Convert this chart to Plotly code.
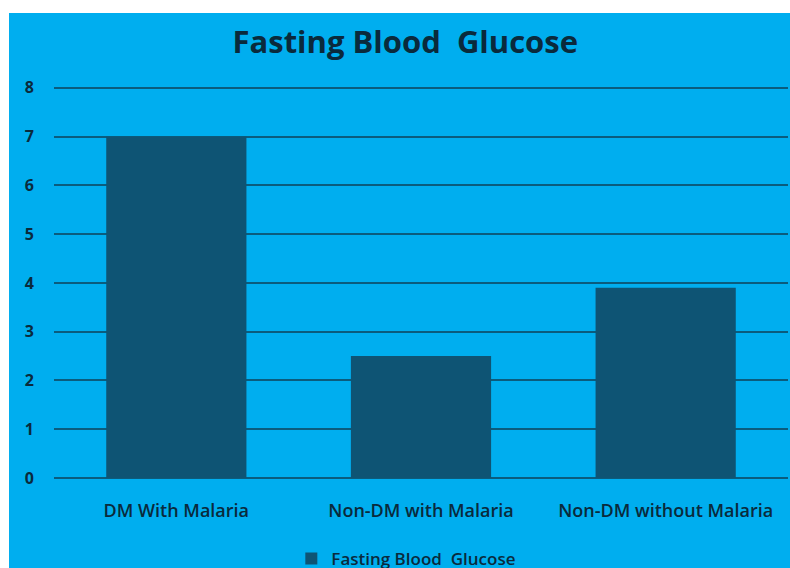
import plotly.graph_objects as go

categories = ["DM With Malaria", "Non-DM with Malaria", "Non-DM without Malaria"]
glucose = [7.0, 2.5, 3.9]
series_name = "Fasting Blood\u00a0 Glucose"

blue = "#00AEEF"
bar_color = "#0E5474"
text_color = "#0A2A3C"
font_name = "Open Sans"

fig = go.Figure()

fig.add_trace(go.Bar(
    x=categories,
    y=glucose,
    name=series_name,
    marker=dict(color=bar_color, line=dict(width=0)),
    width=0.573,
    showlegend=True,
))

# blue panel behind everything, leaving a white strip on top and left
fig.add_shape(
    type="rect", xref="paper", yref="paper",
    x0=-0.0613, x1=1.01, y0=-0.3, y1=1.177,
    fillcolor=blue, line=dict(width=0), layer="below",
)

fig.update_layout(
    width=790,
    height=568,
    margin=dict(l=54, r=2, t=83, b=90),
    paper_bgcolor="white",
    plot_bgcolor="rgba(0,0,0,0)",
    font=dict(family=font_name, color=text_color, size=15),
    title=dict(
        text="<b>" + series_name + "</b>",
        x=0.513, xref="container", xanchor="center",
        y=1 - 42 / 568, yref="container", yanchor="middle",
        font=dict(family=font_name, size=31, color=text_color),
    ),
    bargap=0.427,
    showlegend=True,
    legend=dict(
        orientation="h",
        x=0.48, xanchor="center", xref="paper",
        y=1 - 559 / 568, yanchor="middle", yref="container",
        font=dict(size=17, color=text_color, weight=600),
        bgcolor="rgba(0,0,0,0)",
        itemwidth=30,
    ),
    xaxis=dict(
        showgrid=False,
        showline=False,
        ticks="",
        ticklabelstandoff=20,
        tickfont=dict(size=18, color=text_color, weight=600),
    ),
    yaxis=dict(
        range=[0, 8.1],
        tickvals=[0, 1, 2, 3, 4, 5, 6, 7, 8],
        showgrid=True,
        gridcolor="#0B5C7D",
        gridwidth=1.5,
        zeroline=True,
        zerolinecolor="#0B5C7D",
        zerolinewidth=1.5,
        showline=False,
        ticks="",
        ticklabelstandoff=19,
        tickfont=dict(size=16, color=text_color, weight="bold"),
    ),
)

fig.write_html(
    "out.html",
    config={"displayModeBar": False},
    post_script="document.body.style.margin='0';",
)
